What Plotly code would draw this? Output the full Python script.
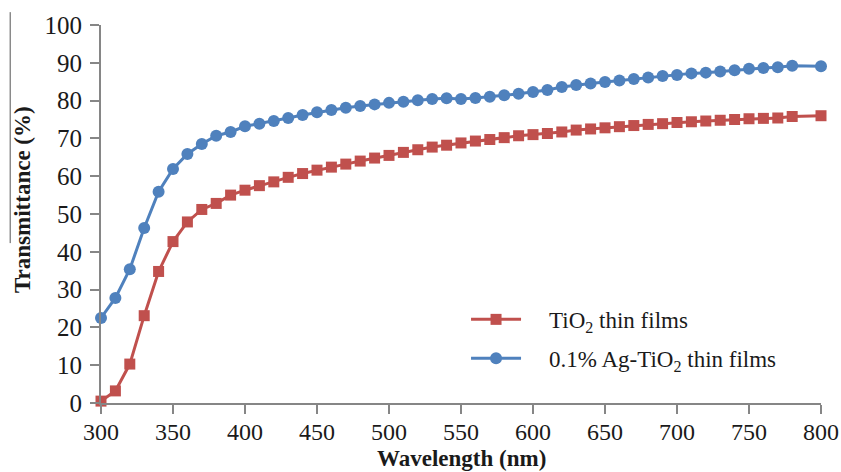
import plotly.graph_objects as go

wavelength = list(range(300, 790, 10)) + [800]

tio2 = [0.5, 3.2, 10.3, 23.1, 34.8, 42.7, 47.9, 51.2, 52.8, 55.0,
        56.3, 57.5, 58.5, 59.7, 60.7, 61.6, 62.4, 63.2, 64.0, 64.8,
        65.5, 66.3, 67.0, 67.7, 68.2, 68.8, 69.3, 69.7, 70.2, 70.7,
        71.0, 71.3, 71.7, 72.2, 72.5, 72.8, 73.1, 73.4, 73.7, 73.9,
        74.2, 74.4, 74.6, 74.8, 75.0, 75.2, 75.3, 75.4, 75.8, 76.0]

ag_tio2 = [22.5, 27.8, 35.4, 46.3, 55.9, 61.9, 65.9, 68.5, 70.7, 71.7,
           73.2, 73.9, 74.6, 75.4, 76.2, 76.9, 77.5, 78.1, 78.6, 79.0,
           79.4, 79.7, 80.1, 80.4, 80.6, 80.4, 80.7, 81.0, 81.4, 81.8,
           82.3, 82.8, 83.6, 84.1, 84.5, 84.9, 85.3, 85.7, 86.1, 86.5,
           86.8, 87.2, 87.4, 87.7, 88.0, 88.4, 88.6, 88.8, 89.2, 89.1]

x_ticks = list(range(300, 801, 50))
y_ticks = list(range(0, 101, 10))

series_names = ["&nbsp;&nbsp;&nbsp;&nbsp;TiO<sub>2</sub> thin films",
                "&nbsp;&nbsp;&nbsp;&nbsp;0.1% Ag-TiO<sub>2</sub> thin films"]
x_title = "<b>Wavelength (nm)</b>"
y_title = "<b>Transmittance (%)</b>"

RED = "#C0504D"
BLUE = "#4F81BD"
AXIS = "#868686"
FONT = "Liberation Serif"
TXT = "#1a1a1a"

fig = go.Figure()
fig.add_trace(go.Scatter(
    x=wavelength, y=tio2, mode="lines+markers",
    name=series_names[0], legendgroup="a",
    line=dict(color=RED, width=3),
    marker=dict(symbol="square", size=11, color=RED),
    cliponaxis=False,
))
fig.add_trace(go.Scatter(
    x=wavelength, y=ag_tio2, mode="lines+markers",
    name=series_names[1], legendgroup="b",
    line=dict(color=BLUE, width=3),
    marker=dict(symbol="circle", size=12, color=BLUE),
    cliponaxis=False,
))

fig.update_layout(
    width=841, height=472,
    margin=dict(l=101, r=20, t=25, b=69, pad=0, autoexpand=False),
    paper_bgcolor="white", plot_bgcolor="white",
    font=dict(family=FONT, size=23, color=TXT),
    showlegend=True,
    legend=dict(
        x=0.507, y=0.278, xanchor="left", yanchor="top",
        bgcolor="rgba(0,0,0,0)", borderwidth=0,
        traceorder="grouped", tracegroupgap=6,
        itemwidth=50,
        font=dict(family=FONT, size=23, color=TXT),
    ),
    xaxis=dict(
        range=[300, 800], tickvals=x_ticks, ticktext=[str(v) for v in x_ticks],
        automargin=False,
        showgrid=False, zeroline=False, showline=True, linecolor=AXIS, linewidth=2,
        ticks="outside", ticklen=9, tickwidth=2, tickcolor=AXIS,
        tickfont=dict(family=FONT, size=24, color=TXT),
        ticklabelstandoff=-3,
    ),
    yaxis=dict(
        range=[0, 100], tickvals=y_ticks, ticktext=[str(v) for v in y_ticks],
        automargin=False,
        showgrid=False, zeroline=False, showline=True, linecolor=AXIS, linewidth=2,
        ticks="outside", ticklen=9, tickwidth=2, tickcolor=AXIS,
        tickfont=dict(family=FONT, size=25, color=TXT),
        ticklabelstandoff=3,
    ),
    annotations=[
        dict(text=x_title, xref="paper", yref="paper", x=0.5, y=-0.186,
             xanchor="center", yanchor="bottom", showarrow=False,
             font=dict(family=FONT, size=23, color=TXT)),
        dict(text=y_title, xref="paper", yref="paper", x=-0.11, y=0.539,
             xanchor="center", yanchor="middle", textangle=-90, showarrow=False,
             font=dict(family=FONT, size=23, color=TXT)),
    ],
    shapes=[dict(type="line", xref="paper", yref="paper",
                 x0=-0.126, x1=-0.126, y0=0.423, y1=1.034,
                 line=dict(color="#8a8a8a", width=1.5))],
)

fig.write_html("out.html")
